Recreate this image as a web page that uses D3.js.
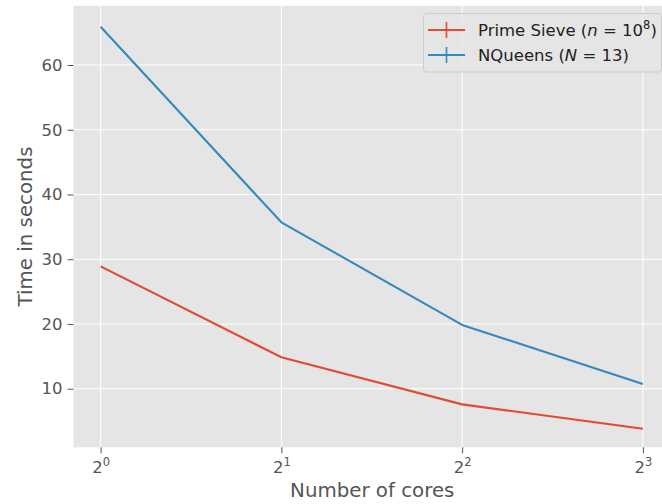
<!DOCTYPE html>
<html>
<head>
<meta charset="utf-8">
<script src="https://cdn.jsdelivr.net/npm/d3@7"></script>
<style>
  body { margin: 0; background: #fff; }
  text { font-family: "DejaVu Sans", sans-serif; }
</style>
</head>
<body>
<div id="chart"></div>
<script>
// number of cores (x) and timings in seconds
var cores = [1, 2, 4, 8];
var primeSieve = [28.9, 14.85, 7.58, 3.82];
var nQueens = [65.9, 35.7, 19.85, 10.73];
var yTicks = [10, 20, 30, 40, 50, 60];
var yLimits = [0.95, 69.16];

var series = [
  { name: "Prime Sieve", arg: "n", val: "10", sup: "8", color: "#E24A33", values: primeSieve },
  { name: "NQueens", arg: "N", val: "13", sup: "", color: "#348ABD", values: nQueens }
];

var width = 662, height = 504,
    margin = { top: 5.7, right: -8, bottom: 56.7, left: 73.5 };

var svg = d3.select("#chart").append("svg")
    .attr("width", width)
    .attr("height", height);

// log2 x with matplotlib's 5% margin
var pad = 0.05 * Math.log2(cores[cores.length - 1] / cores[0]);
var x = d3.scaleLog().base(2)
    .domain([cores[0] * Math.pow(2, -pad), cores[cores.length - 1] * Math.pow(2, pad)])
    .range([margin.left, width - margin.right]);

var y = d3.scaleLinear()
    .domain(yLimits)
    .range([height - margin.bottom, margin.top]);

// background
svg.append("rect")
    .attr("x", margin.left)
    .attr("y", margin.top)
    .attr("width", width - margin.right - margin.left)
    .attr("height", height - margin.bottom - margin.top)
    .attr("fill", "#E5E5E5");

// grid
svg.selectAll(".ygrid").data(yTicks).enter().append("line")
    .attr("x1", margin.left).attr("x2", width - margin.right)
    .attr("y1", d => y(d)).attr("y2", d => y(d))
    .attr("stroke", "#fff").attr("stroke-width", 1.1);

svg.selectAll(".xgrid").data(cores).enter().append("line")
    .attr("y1", margin.top).attr("y2", height - margin.bottom)
    .attr("x1", d => x(d)).attr("x2", d => x(d))
    .attr("stroke", "#fff").attr("stroke-width", 1.1);

// y axis
var yAxis = svg.append("g")
    .attr("transform", "translate(" + margin.left + ",0)")
    .call(d3.axisLeft(y).tickValues(yTicks).tickSize(6).tickPadding(5));
yAxis.select(".domain").remove();
yAxis.selectAll(".tick line").attr("stroke", "#555").attr("stroke-width", 1);
yAxis.selectAll(".tick text")
    .attr("fill", "#555")
    .style("font-size", "16.5px");

// x axis with 2^k labels
var xAxis = svg.append("g")
    .attr("transform", "translate(0," + (height - margin.bottom) + ")")
    .call(d3.axisBottom(x).tickValues(cores).tickSize(6).tickFormat(""));
xAxis.select(".domain").remove();
xAxis.selectAll(".tick line").attr("stroke", "#555").attr("stroke-width", 1);

var xl = xAxis.selectAll(".tick").append("text")
    .attr("y", 25.5)
    .attr("fill", "#555")
    .attr("text-anchor", "middle")
    .style("font-size", "16.5px");
xl.append("tspan").text("2");
xl.append("tspan")
    .attr("dy", -7)
    .style("font-size", "11.5px")
    .text(d => Math.log2(d));

// axis labels
svg.append("text")
    .attr("x", (margin.left + 670) / 2 + 0.5)
    .attr("y", 497)
    .attr("text-anchor", "middle")
    .attr("fill", "#555")
    .style("font-size", "19.8px")
    .text("Number of cores");

svg.append("text")
    .attr("transform", "translate(31.5," + ((margin.top + height - margin.bottom) / 2) + ") rotate(-90)")
    .attr("text-anchor", "middle")
    .attr("fill", "#555")
    .style("font-size", "19.8px")
    .text("Time in seconds");

// lines
var line = d3.line()
    .x((d, i) => x(cores[i]))
    .y(d => y(d));

svg.selectAll(".series").data(series).enter().append("path")
    .attr("d", d => line(d.values))
    .attr("fill", "none")
    .attr("stroke", d => d.color)
    .attr("stroke-width", 2.1)
    .attr("stroke-linejoin", "round");

// legend
var legend = svg.append("g");
legend.append("rect")
    .attr("x", 423.5).attr("y", 13.5)
    .attr("width", 238).attr("height", 58.5)
    .attr("rx", 3)
    .attr("fill", "#E5E5E5").attr("fill-opacity", 0.8)
    .attr("stroke", "#CCCCCC").attr("stroke-width", 1);

var item = legend.selectAll(".item").data(series).enter().append("g")
    .attr("transform", (d, i) => "translate(0," + (30 + i * 25) + ")");

item.append("line")
    .attr("x1", 428).attr("x2", 465).attr("y1", 0).attr("y2", 0)
    .attr("stroke", d => d.color).attr("stroke-width", 2.1);
item.append("line")
    .attr("x1", 446.5).attr("x2", 446.5).attr("y1", -8).attr("y2", 8)
    .attr("stroke", d => d.color).attr("stroke-width", 1.6);

var lt = item.append("text")
    .attr("x", 478).attr("y", 6)
    .attr("fill", "#222")
    .attr("xml:space", "preserve")
    .style("white-space", "pre")
    .style("font-size", "16.5px");
lt.append("tspan").text(d => d.name + " (");
lt.append("tspan").style("font-style", "italic").text(d => d.arg);
lt.append("tspan").text(d => " = " + d.val);
lt.append("tspan")
    .attr("dy", -7)
    .style("font-size", "11.5px")
    .text(d => d.sup);
lt.append("tspan")
    .attr("dy", d => d.sup ? 7 : 0)
    .text(")");
</script>
</body>
</html>
